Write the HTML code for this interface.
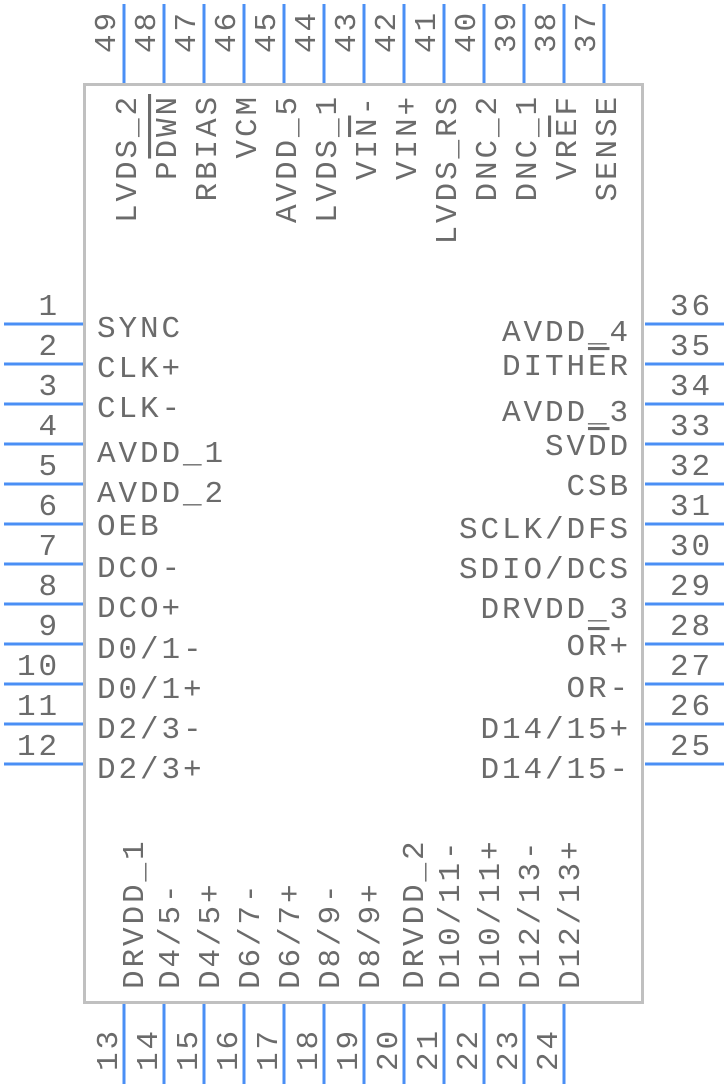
<!DOCTYPE html>
<html><head><meta charset="utf-8"><style>
html,body{margin:0;padding:0;background:#fff;}
svg{display:block;}
text{font-family:"Liberation Mono",monospace;font-size:31px;letter-spacing:2.9px;fill:#6b6b6b;}
.ov{text-decoration:overline;}
</style></head><body>
<svg width="728" height="1088" viewBox="0 0 728 1088" xmlns="http://www.w3.org/2000/svg">
<rect x="84.5" y="84.5" width="558" height="918" fill="#fff" stroke="#c0c0c0" stroke-width="3"/>
<g stroke="#4a8ff5" stroke-width="3">
<!-- left -->
<line x1="4" y1="324" x2="83" y2="324"/><line x1="4" y1="364" x2="83" y2="364"/><line x1="4" y1="404" x2="83" y2="404"/><line x1="4" y1="444" x2="83" y2="444"/><line x1="4" y1="484" x2="83" y2="484"/><line x1="4" y1="524" x2="83" y2="524"/><line x1="4" y1="564" x2="83" y2="564"/><line x1="4" y1="604" x2="83" y2="604"/><line x1="4" y1="644" x2="83" y2="644"/><line x1="4" y1="684" x2="83" y2="684"/><line x1="4" y1="724" x2="83" y2="724"/><line x1="4" y1="764" x2="83" y2="764"/>
<!-- right -->
<line x1="645" y1="324" x2="724" y2="324"/><line x1="645" y1="364" x2="724" y2="364"/><line x1="645" y1="404" x2="724" y2="404"/><line x1="645" y1="444" x2="724" y2="444"/><line x1="645" y1="484" x2="724" y2="484"/><line x1="645" y1="524" x2="724" y2="524"/><line x1="645" y1="564" x2="724" y2="564"/><line x1="645" y1="604" x2="724" y2="604"/><line x1="645" y1="644" x2="724" y2="644"/><line x1="645" y1="684" x2="724" y2="684"/><line x1="645" y1="724" x2="724" y2="724"/><line x1="645" y1="764" x2="724" y2="764"/>
<!-- top -->
<line x1="124" y1="4" x2="124" y2="83"/><line x1="164" y1="4" x2="164" y2="83"/><line x1="204" y1="4" x2="204" y2="83"/><line x1="244" y1="4" x2="244" y2="83"/><line x1="284" y1="4" x2="284" y2="83"/><line x1="324" y1="4" x2="324" y2="83"/><line x1="364" y1="4" x2="364" y2="83"/><line x1="404" y1="4" x2="404" y2="83"/><line x1="444" y1="4" x2="444" y2="83"/><line x1="484" y1="4" x2="484" y2="83"/><line x1="524" y1="4" x2="524" y2="83"/><line x1="564" y1="4" x2="564" y2="83"/><line x1="604" y1="4" x2="604" y2="83"/>
<!-- bottom -->
<line x1="124" y1="1004" x2="124" y2="1084"/><line x1="164" y1="1004" x2="164" y2="1084"/><line x1="204" y1="1004" x2="204" y2="1084"/><line x1="244" y1="1004" x2="244" y2="1084"/><line x1="284" y1="1004" x2="284" y2="1084"/><line x1="324" y1="1004" x2="324" y2="1084"/><line x1="364" y1="1004" x2="364" y2="1084"/><line x1="404" y1="1004" x2="404" y2="1084"/><line x1="444" y1="1004" x2="444" y2="1084"/><line x1="484" y1="1004" x2="484" y2="1084"/><line x1="524" y1="1004" x2="524" y2="1084"/><line x1="564" y1="1004" x2="564" y2="1084"/>
</g>

<!-- left numbers -->
<g text-anchor="end">
<text x="60" y="315">1</text><text x="60" y="355">2</text><text x="60" y="395">3</text><text x="60" y="435">4</text><text x="60" y="475">5</text><text x="60" y="515">6</text><text x="60" y="555">7</text><text x="60" y="595">8</text><text x="60" y="635">9</text><text x="60" y="675">10</text><text x="60" y="715">11</text><text x="60" y="755">12</text>
</g>
<!-- left labels -->
<text x="97" y="337">SYNC</text>
<text x="97" y="377">CLK+</text>
<text x="97" y="417">CLK-</text>
<text x="97" y="462">AVDD_1</text>
<text x="97" y="502">AVDD_2</text>
<text x="97" y="535">OEB</text>
<text x="97" y="577">DCO-</text>
<text x="97" y="617">DCO+</text>
<text x="97" y="658">D0/1-</text>
<text x="97" y="698">D0/1+</text>
<text x="97" y="738">D2/3-</text>
<text x="97" y="778">D2/3+</text>

<!-- right numbers -->
<text x="670" y="315">36</text><text x="670" y="355">35</text><text x="670" y="395">34</text><text x="670" y="435">33</text><text x="670" y="475">32</text><text x="670" y="515">31</text><text x="670" y="555">30</text><text x="670" y="595">29</text><text x="670" y="635">28</text><text x="670" y="675">27</text><text x="670" y="715">26</text><text x="670" y="755">25</text>
<!-- right labels -->
<g text-anchor="end">
<text x="631" y="341">AVDD_4</text>
<text x="631" y="375">DITH<tspan class="ov">E</tspan>R</text>
<text x="631" y="421">AVDD_3</text>
<text x="631" y="455">SV<tspan class="ov">D</tspan>D</text>
<text x="631" y="495">CSB</text>
<text x="631" y="538">SCLK/DFS</text>
<text x="631" y="578">SDIO/DCS</text>
<text x="631" y="618">DRVDD_3</text>
<text x="631" y="655">O<tspan class="ov">R</tspan>+</text>
<text x="631" y="697">OR-</text>
<text x="631" y="738">D14/15+</text>
<text x="631" y="778">D14/15-</text>
</g>

<!-- top numbers -->
<text transform="translate(115,53) rotate(-90)">49</text>
<text transform="translate(155,53) rotate(-90)">48</text>
<text transform="translate(195,53) rotate(-90)">47</text>
<text transform="translate(235,53) rotate(-90)">46</text>
<text transform="translate(275,53) rotate(-90)">45</text>
<text transform="translate(315,53) rotate(-90)">44</text>
<text transform="translate(355,53) rotate(-90)">43</text>
<text transform="translate(395,53) rotate(-90)">42</text>
<text transform="translate(435,53) rotate(-90)">41</text>
<text transform="translate(475,53) rotate(-90)">40</text>
<text transform="translate(515,53) rotate(-90)">39</text>
<text transform="translate(555,53) rotate(-90)">38</text>
<text transform="translate(595,53) rotate(-90)">37</text>
<!-- top labels -->
<g text-anchor="end">
<text transform="translate(136,94) rotate(-90)">LVDS_2</text>
<text transform="translate(176,94) rotate(-90)">P<tspan class="ov">DWN</tspan></text>
<text transform="translate(216,94) rotate(-90)">RBIAS</text>
<text transform="translate(256,94) rotate(-90)">VCM</text>
<text transform="translate(296,94) rotate(-90)">AVDD_5</text>
<text transform="translate(336,94) rotate(-90)">LVDS_1</text>
<text transform="translate(376,94) rotate(-90)">VI<tspan class="ov">N</tspan>-</text>
<text transform="translate(416,94) rotate(-90)">VIN+</text>
<text transform="translate(456,94) rotate(-90)">LVDS_RS</text>
<text transform="translate(496,94) rotate(-90)">DNC_2</text>
<text transform="translate(536,94) rotate(-90)">DNC_1</text>
<text transform="translate(576,94) rotate(-90)">VR<tspan class="ov">E</tspan>F</text>
<text transform="translate(616,94) rotate(-90)">SENSE</text>
</g>

<!-- bottom labels -->
<text transform="translate(143,989) rotate(-90)">DRVDD_1</text>
<text transform="translate(179,989) rotate(-90)">D4/5-</text>
<text transform="translate(219,989) rotate(-90)">D4/5+</text>
<text transform="translate(259,989) rotate(-90)">D6/7-</text>
<text transform="translate(299,989) rotate(-90)">D6/7+</text>
<text transform="translate(339,989) rotate(-90)">D8/9-</text>
<text transform="translate(379,989) rotate(-90)">D8/9+</text>
<text transform="translate(423,989) rotate(-90)">DRVDD_2</text>
<text transform="translate(459,989) rotate(-90)">D10/11-</text>
<text transform="translate(499,989) rotate(-90)">D10/11+</text>
<text transform="translate(539,989) rotate(-90)">D12/13-</text>
<text transform="translate(579,989) rotate(-90)">D12/13+</text>
<!-- bottom numbers -->
<text transform="translate(117,1071) rotate(-90)">13</text>
<text transform="translate(157,1071) rotate(-90)">14</text>
<text transform="translate(197,1071) rotate(-90)">15</text>
<text transform="translate(237,1071) rotate(-90)">16</text>
<text transform="translate(277,1071) rotate(-90)">17</text>
<text transform="translate(317,1071) rotate(-90)">18</text>
<text transform="translate(357,1071) rotate(-90)">19</text>
<text transform="translate(397,1071) rotate(-90)">20</text>
<text transform="translate(437,1071) rotate(-90)">21</text>
<text transform="translate(477,1071) rotate(-90)">22</text>
<text transform="translate(517,1071) rotate(-90)">23</text>
<text transform="translate(557,1071) rotate(-90)">24</text>
</svg>
</body></html>
